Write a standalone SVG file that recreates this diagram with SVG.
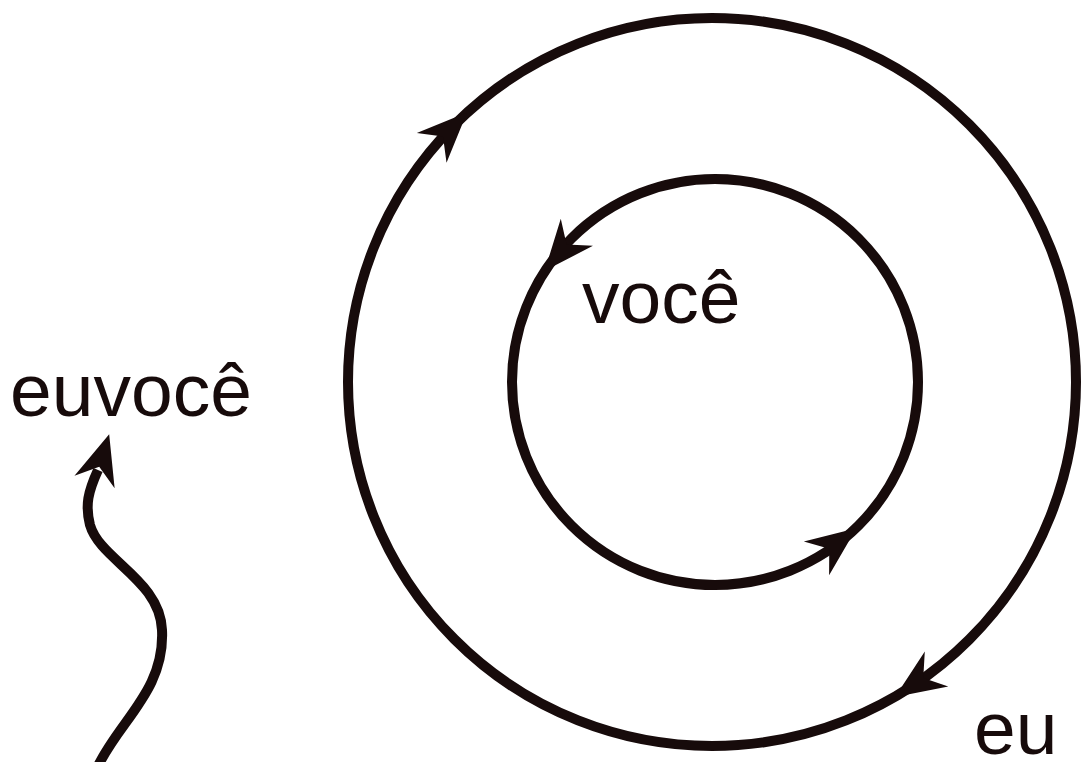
<svg xmlns="http://www.w3.org/2000/svg" width="1084" height="762" viewBox="0 0 1084 762">
<style>
.ln{fill:none;stroke:#170b0b;stroke-width:10;stroke-linecap:butt}
.ah{fill:#170b0b}
.t{font-family:"Liberation Sans",Arial,sans-serif;font-size:75px;fill:#170b0b}
</style>
<defs>
<path id="ah" d="M 4 0 L -46 -21 L -30 0 L -46 21 Z"/>
</defs>
<rect width="1084" height="762" fill="#fff"/>
<g id="connectors">
<circle id="outer" class="ln" cx="712" cy="382" r="364"/>
<circle id="inner" class="ln" cx="715" cy="382" r="203"/>
<path id="wave" class="ln" d="M 98 766 C 120 720, 165 690, 162 630 C 160 580, 100 560, 90 525 C 85 505, 88 492, 98 470"/>
<use class="ah" href="#ah" transform="translate(464.2,115.4) rotate(-45)"/>
<use class="ah" href="#ah" transform="translate(898.4,694.7) rotate(146)"/>
<use class="ah" href="#ah" transform="translate(547.3,267.6) rotate(130)"/>
<use class="ah" href="#ah" transform="translate(853.2,530.7) rotate(-37)"/>
<use class="ah" href="#ah" transform="translate(108,438) rotate(-73)"/>
</g>
<g id="label-euvoce"><text class="t" x="10" y="416">euvocê</text></g>
<g id="label-voce"><text class="t" x="582" y="323">você</text></g>
<g id="label-eu"><text class="t" x="974" y="754">eu</text></g>
</svg>
